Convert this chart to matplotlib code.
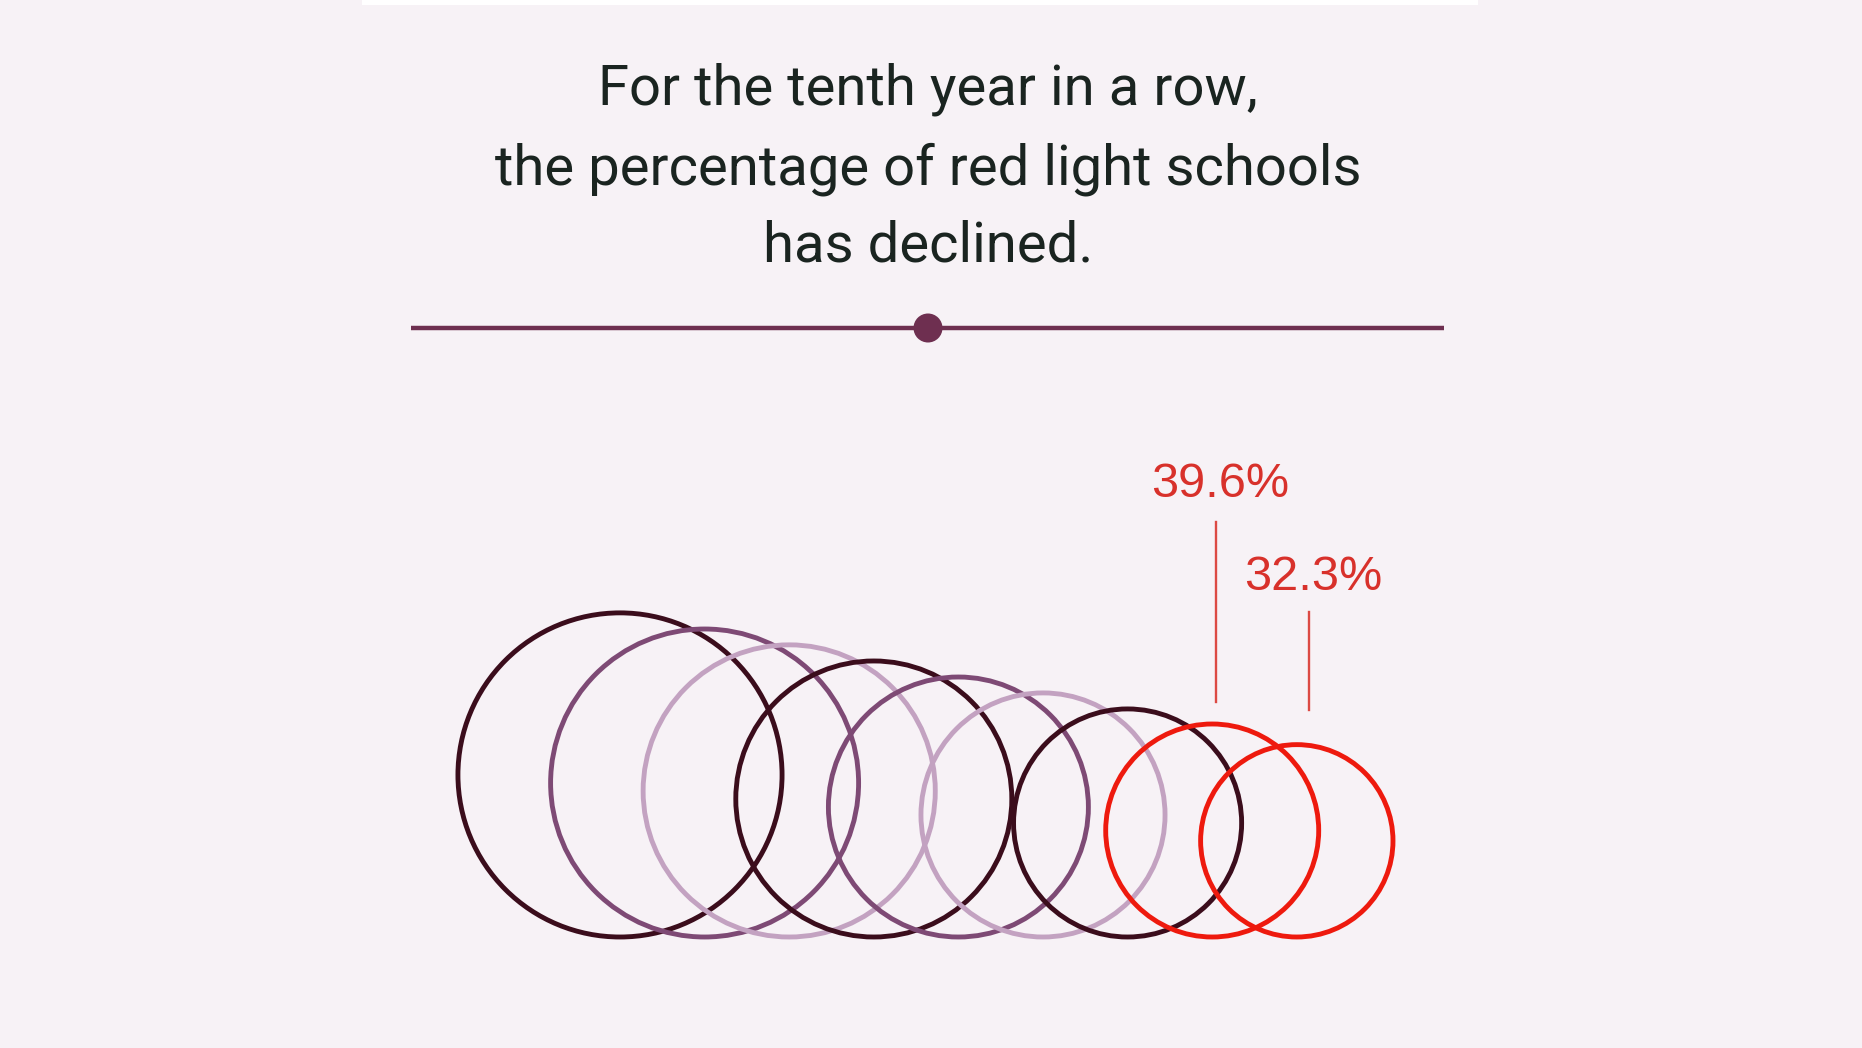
import numpy as np
import matplotlib
matplotlib.use("Agg")
import matplotlib.pyplot as plt
from matplotlib.patches import Circle, Rectangle

# ---- data ----
title_lines = ["For the tenth year in a row,",
               "the percentage of red light schools",
               "has declined."]
pct_values = [91.7, 82.8, 74.5, 66.5, 59.0, 52.0, 45.4, 39.6, 32.3]
circle_colors = ["#3b0d1c", "#7e4a75", "#c3a2c1",
                 "#3b0d1c", "#7e4a75", "#c3a2c1",
                 "#3b0d1c", "#ee1a0e", "#ee1a0e"]
labels = {7: "39.6%", 8: "32.3%"}

# ---- layout (pixel space) ----
W, H = 1862, 1048
bg = "#f7f2f6"
fig = plt.figure(figsize=(W / 100, H / 100), dpi=100, facecolor=bg)
ax = fig.add_axes([0, 0, 1, 1])
ax.set_xlim(0, W)
ax.set_ylim(H, 0)
ax.set_aspect("equal")
ax.axis("off")
ax.set_facecolor(bg)

# top white strip
ax.add_patch(Rectangle((362, 0), 1116, 4.5, facecolor="white", edgecolor="none"))

# title
baselines = [105, 185, 262]
for line, yb in zip(title_lines, baselines):
    ax.text(928, yb, line, ha="center", va="baseline", fontsize=40.5,
            family="Roboto", fontweight="normal", color="#1a2420")

# divider with dot
ax.plot([411, 1444], [328, 328], color="#6e2f50", lw=3.2, solid_capstyle="butt")
ax.add_patch(Circle((928, 328), 14.5, facecolor="#6e2f50", edgecolor="none"))

# circles: radius proportional to sqrt(percentage), bottoms aligned
k = 106.5 / np.sqrt(39.6)
x0, step, base = 620, 84.6, 937
for i, (p, c) in enumerate(zip(pct_values, circle_colors)):
    r = k * np.sqrt(p)
    cx = x0 + i * step
    ax.add_patch(Circle((cx, base - r), r, facecolor="none", edgecolor=c,
                        lw=3.5, zorder=3 + i))

# labels with leader lines
label_dx = {7: 4, 8: 12}
label_base = {7: 497, 8: 590}
leader = {7: (522, 702), 8: (612, 710)}
for i, txt in labels.items():
    cx = x0 + i * step + label_dx[i]
    ax.text(cx + 4, label_base[i], txt, ha="center", va="baseline",
            fontsize=35, family="Liberation Sans", color="#d8312b")
    ax.plot([cx, cx], leader[i], color="#dc4a44", lw=1.7)

fig.savefig("out.png", dpi=100, facecolor=bg)
